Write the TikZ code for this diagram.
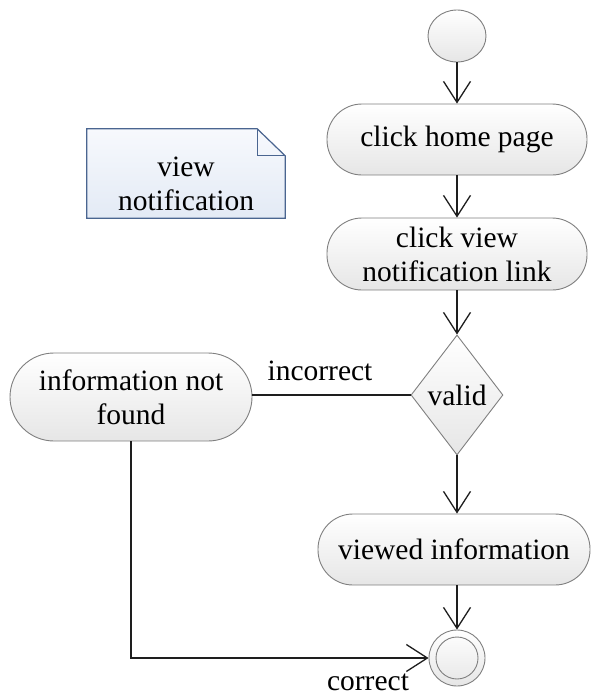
\documentclass[tikz,border=0pt]{standalone}
\usepackage{fontspec}
\setmainfont{Liberation Serif}
\usetikzlibrary{arrows.meta,shapes.geometric}
\definecolor{nodeborder}{HTML}{7F7F7F}
\definecolor{nodebottom}{HTML}{E6E6E6}
\definecolor{noteborder}{HTML}{4A6590}
\definecolor{notetop}{HTML}{F7F9FD}
\definecolor{notebottom}{HTML}{E3EAF5}
\definecolor{linecol}{HTML}{1E1E1E}
\begin{document}
\begin{tikzpicture}[x=1pt,y=-1pt,
  every node/.style={font=\fontsize{29.5}{34}\selectfont, text=black},
  shadedbox/.style={draw=nodeborder, line width=0.9pt, top color=white, bottom color=nodebottom, inner sep=0pt},
  act/.style={shadedbox, rounded corners=35pt, align=center},
  flow/.style={line width=1.3pt, draw=linecol},
  arr/.style={flow, -{Straight Barb[length=21pt,width=27pt,line width=1.3pt]}},
  lbl/.style={inner sep=0pt}]
\useasboundingbox (0,0) rectangle (590,696);

% note
\node[minimum width=198pt, minimum height=89pt, inner sep=0pt] (note) at (186,173.5) {};
\filldraw[draw=noteborder, line width=1.2pt, top color=notetop, bottom color=notebottom]
  (note.north west) -- ([xshift=-28pt]note.north east) -- ([yshift=-27pt]note.north east)
  -- (note.south east) -- (note.south west) -- cycle;
\draw[noteborder, line width=1.2pt] ([xshift=-28pt]note.north east) -- ([xshift=-28pt,yshift=-27pt]note.north east) -- ([yshift=-27pt]note.north east);
\node[align=center, inner sep=0pt] (notetext) at (186,184) {view\\notification};

% activity nodes
\node[shadedbox, ellipse, minimum width=58pt, minimum height=52pt] (start) at (457,36) {};
\node[act, minimum width=260pt, minimum height=71pt] (n1) at (457,139.5) {click home page};
\node[act, minimum width=260pt, minimum height=72pt] (n2) at (457,254) {click view\\notification link};
\node[shadedbox, diamond, minimum width=92pt, minimum height=120pt] (valid) at (457,395) {valid};
\node[act, rounded corners=44pt, minimum width=242pt, minimum height=88pt] (info) at (131,397) {information not\\found};
\node[act, minimum width=272pt, minimum height=71pt] (viewed) at (454,549.5) {viewed information};
\node[shadedbox, circle, minimum size=56pt] (final) at (457,658) {};
\draw[nodeborder, line width=0.9pt] (final.center) circle[radius=21pt];

% connectors
\draw[arr] (start.south) -- (n1.north);
\draw[arr] (n1.south) -- (n2.north);
\draw[arr] (n2.south) -- (valid.north);
\draw[flow] (valid.west) -- (valid.west -| info.east);
\draw[arr] (valid.south) -- (valid.south |- viewed.north);
\draw[arr] (final.north |- viewed.south) -- (final.north);
\draw[arr] (info.south) |- (final.west);

% labels
\node[lbl] (lincorrect) at (320,371) {incorrect};
\node[lbl] (lcorrect) at (368,682) {correct};
\end{tikzpicture}
\end{document}
